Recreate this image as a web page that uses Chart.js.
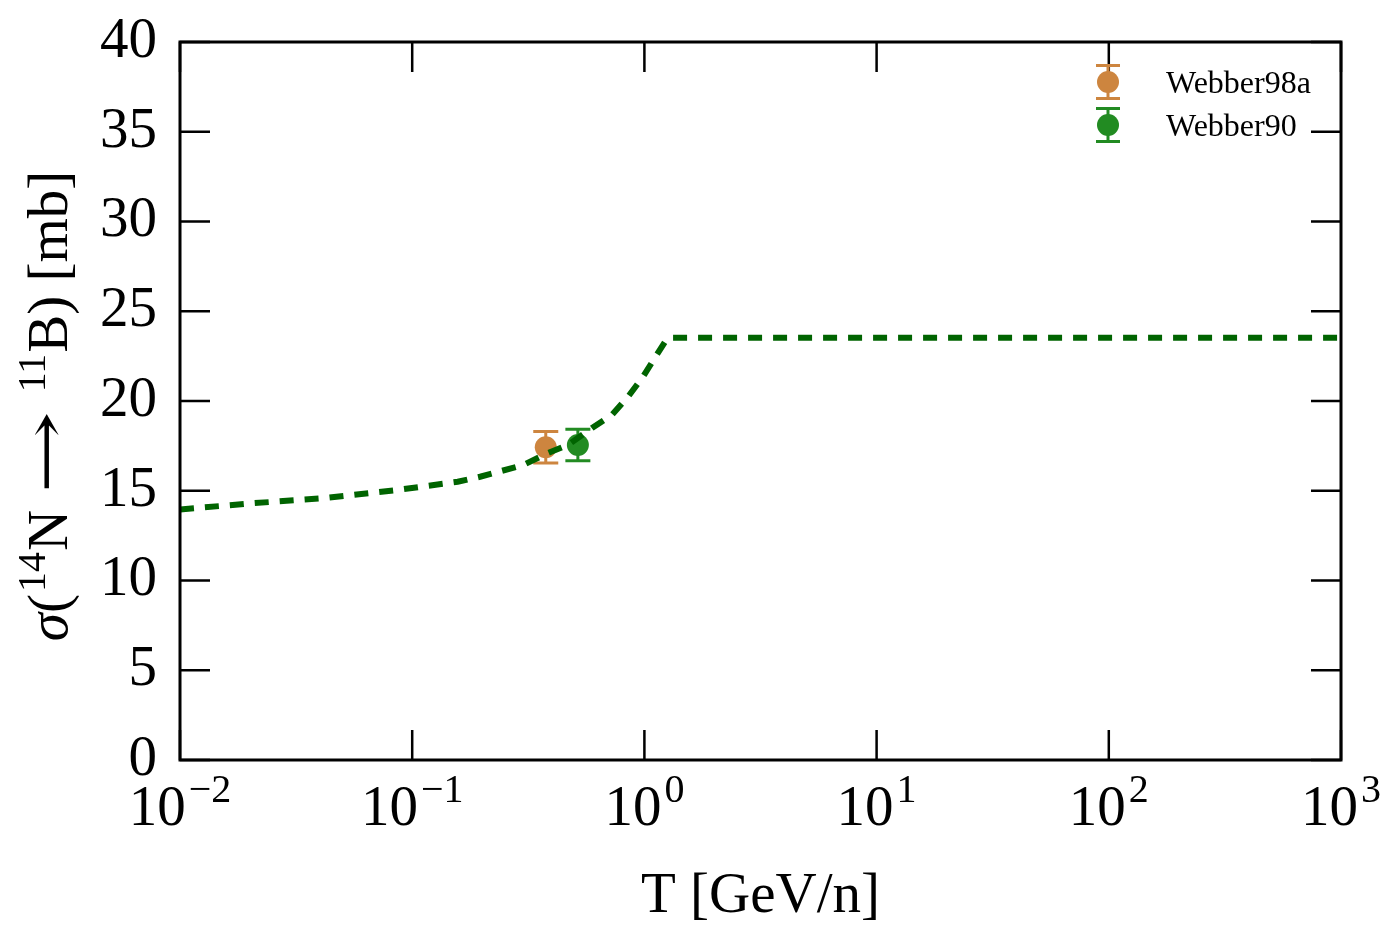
<!DOCTYPE html>
<html>
<head>
<meta charset="utf-8">
<script src="https://cdn.jsdelivr.net/npm/chart.js@4"></script>
<style>
html,body{margin:0;padding:0;background:#fff;}
#wrap{width:1395px;height:945px;position:relative;}
</style>
</head>
<body>
<div id="wrap"><canvas id="c"></canvas></div>
<script>
// ---- data ----
const curveT     = [0.01, 0.0204, 0.0413, 0.086, 0.157, 0.196, 0.300, 0.385, 0.469, 0.595, 0.725, 0.849, 0.986, 1.13, 1.26, 1000];
const curveSigma = [13.96, 14.30, 14.58, 15.04, 15.50, 15.78, 16.43, 17.10, 17.55, 18.50, 19.23, 20.23, 21.35, 22.57, 23.53, 23.53];

const webber98aT     = [0.376];
const webber98aSigma = [17.42];
const webber98aErr   = [0.88];

const webber90T      = [0.517];
const webber90Sigma  = [17.55];
const webber90Err    = [0.88];

const xTickExps  = [-2, -1, 0, 1, 2, 3];
const yTickVals  = [0, 5, 10, 15, 20, 25, 30, 35, 40];
const legendLabels = ['Webber98a', 'Webber90'];
const xTitle = 'T [GeV/n]';
const yTitle = 'σ(¹⁴N → ¹¹B) [mb]';

const ORANGE = '#CD853F', GREEN = '#228B22', LINEGREEN = '#006400';
const FONT = "'Liberation Serif', 'DejaVu Serif', serif";

const toPts = (xs, ys) => xs.map((x, i) => ({x: x, y: ys[i]}));

const errorBars = {
  id: 'errorBars',
  beforeDatasetsDraw(chart) {
    const ctx = chart.ctx, xs = chart.scales.x, ys = chart.scales.y;
    chart.data.datasets.forEach(ds => {
      if (!ds.err) return;
      ds.data.forEach((p, i) => {
        const px = xs.getPixelForValue(p.x);
        const y1 = ys.getPixelForValue(p.y - ds.err[i]);
        const y2 = ys.getPixelForValue(p.y + ds.err[i]);
        ctx.save();
        ctx.strokeStyle = ds.backgroundColor; ctx.lineWidth = 3;
        ctx.beginPath();
        ctx.moveTo(px, y1); ctx.lineTo(px, y2);
        ctx.moveTo(px - 12.5, y1); ctx.lineTo(px + 12.5, y1);
        ctx.moveTo(px - 12.5, y2); ctx.lineTo(px + 12.5, y2);
        ctx.stroke();
        ctx.restore();
      });
    });
  }
};

function drawYTitle(ctx, cx, cy) {
  // pieces of the y-axis title: sigma ( 14 N -> 11 B ) [mb]
  const big = '57px ' + FONT, sup = '40px ' + FONT;
  const pieces = [
    {t: 'σ', f: 'italic ' + big, dy: 0},
    {t: '(', f: big, dy: 0, g: 2},
    {t: '14', f: sup, dy: -22, g: 1},
    {t: 'N', f: big, dy: 0, g: 16},
    {t: '→', f: "57px 'DejaVu Serif', serif", dy: 0, sx: 1.75, g: 18},
    {t: '11', f: sup, dy: -22, g: 1},
    {t: 'B', f: big, dy: 0},
    {t: ')', f: big, dy: 0},
    {t: ' [mb]', f: big, dy: 0}
  ];
  let total = 0;
  pieces.forEach(p => { ctx.font = p.f; p.w = ctx.measureText(p.t).width * (p.sx || 1); total += p.w + (p.g || 0); });
  ctx.save();
  ctx.translate(cx, cy);
  ctx.rotate(-Math.PI / 2);
  ctx.fillStyle = '#000';
  ctx.textBaseline = 'alphabetic';
  ctx.textAlign = 'left';
  let x = -total / 2;
  pieces.forEach(p => {
    ctx.font = p.f;
    if (p.sx) {
      ctx.save(); ctx.translate(x, p.dy - 2); ctx.scale(p.sx, 1); ctx.fillText(p.t, 0, 0); ctx.restore();
    } else {
      ctx.fillText(p.t, x, p.dy);
    }
    x += p.w + (p.g || 0);
  });
  ctx.restore();
}

const frameAndTicks = {
  id: 'frameAndTicks',
  afterDatasetsDraw(chart) {
    const ctx = chart.ctx, a = chart.chartArea, xs = chart.scales.x, ys = chart.scales.y;
    ctx.save();
    ctx.strokeStyle = '#000'; ctx.lineWidth = 3;
    ctx.strokeRect(a.left, a.top, a.right - a.left, a.bottom - a.top);
    ctx.lineWidth = 2.5;
    ctx.beginPath();
    const TL = 30;
    xTickExps.forEach(e => {
      const px = xs.getPixelForValue(Math.pow(10, e));
      ctx.moveTo(px, a.bottom); ctx.lineTo(px, a.bottom - TL);
      ctx.moveTo(px, a.top); ctx.lineTo(px, a.top + TL);
    });
    yTickVals.forEach(v => {
      const py = ys.getPixelForValue(v);
      ctx.moveTo(a.left, py); ctx.lineTo(a.left + TL, py);
      ctx.moveTo(a.right, py); ctx.lineTo(a.right - TL, py);
    });
    ctx.stroke();

    // x tick labels with exponents
    ctx.fillStyle = '#000';
    ctx.textBaseline = 'alphabetic';
    ctx.textAlign = 'left';
    xTickExps.forEach(e => {
      const px = xs.getPixelForValue(Math.pow(10, e));
      const base = '10', sp = (e < 0 ? '\u2212' : '') + Math.abs(e);
      ctx.font = '57px ' + FONT;
      const wb = ctx.measureText(base).width;
      ctx.font = '40px ' + FONT;
      const ws = ctx.measureText(sp).width;
      const x0 = px - (wb + ws + 3) / 2;
      ctx.font = '57px ' + FONT;
      ctx.fillText(base, x0, a.bottom + 65);
      ctx.font = '40px ' + FONT;
      ctx.fillText(sp, x0 + wb + 3, a.bottom + 42);
    });

    // y axis title
    drawYTitle(ctx, 67, 406);

    // legend
    const items = [
      {label: legendLabels[0], color: ORANGE, y: 82},
      {label: legendLabels[1], color: GREEN, y: 125}
    ];
    items.forEach(it => {
      const mx = 1108;
      ctx.strokeStyle = it.color; ctx.lineWidth = 3;
      ctx.beginPath();
      ctx.moveTo(mx, it.y - 16.5); ctx.lineTo(mx, it.y + 16.5);
      ctx.moveTo(mx - 12, it.y - 16.5); ctx.lineTo(mx + 12, it.y - 16.5);
      ctx.moveTo(mx - 12, it.y + 16.5); ctx.lineTo(mx + 12, it.y + 16.5);
      ctx.stroke();
      ctx.fillStyle = it.color;
      ctx.beginPath(); ctx.arc(mx, it.y, 11, 0, Math.PI * 2); ctx.fill();
      ctx.fillStyle = '#000';
      ctx.font = '32px ' + FONT;
      ctx.textBaseline = 'alphabetic';
      ctx.fillText(it.label, 1166, it.y + 11);
    });
    ctx.restore();
  }
};

new Chart(document.getElementById('c'), {
  type: 'scatter',
  data: {
    datasets: [
      {
        type: 'line',
        label: 'model',
        data: toPts(curveT, curveSigma),
        borderColor: LINEGREEN,
        borderWidth: 6,
        borderDash: [14, 11],
        pointRadius: 0,
        tension: 0,
        fill: false
      },
      {
        label: legendLabels[0],
        data: toPts(webber98aT, webber98aSigma),
        err: webber98aErr,
        backgroundColor: ORANGE,
        borderColor: ORANGE,
        pointRadius: 11,
        borderWidth: 0
      },
      {
        label: legendLabels[1],
        data: toPts(webber90T, webber90Sigma),
        err: webber90Err,
        backgroundColor: GREEN,
        borderColor: GREEN,
        pointRadius: 11,
        borderWidth: 0
      }
    ]
  },
  options: {
    responsive: true,
    maintainAspectRatio: false,
    animation: false,
    layout: {padding: {top: 42, right: 54, left: 0, bottom: 0}},
    plugins: {legend: {display: false}, tooltip: {enabled: false}},
    scales: {
      x: {
        type: 'logarithmic',
        min: 0.01, max: 1000,
        grid: {display: false, drawTicks: false},
        border: {display: false},
        ticks: {display: false},
        afterBuildTicks: s => { s.ticks = xTickExps.map(e => ({value: Math.pow(10, e)})); },
        afterFit: s => { s.height = 185; s.paddingLeft = 0; s.paddingRight = 0; },
        title: {display: true, text: xTitle, color: '#000', font: {family: FONT, size: 57}, padding: {top: 0, bottom: 14}}
      },
      y: {
        min: 0, max: 40,
        grid: {display: false, drawTicks: false},
        border: {display: false},
        afterBuildTicks: s => { s.ticks = yTickVals.map(v => ({value: v})); },
        ticks: {color: '#000', font: {family: FONT, size: 57}, padding: 23},
        afterFit: s => { s.width = 180; s.paddingTop = 0; s.paddingBottom = 0; },
        title: {display: false, text: yTitle}
      }
    }
  },
  plugins: [errorBars, frameAndTicks]
});
</script>
</body>
</html>
